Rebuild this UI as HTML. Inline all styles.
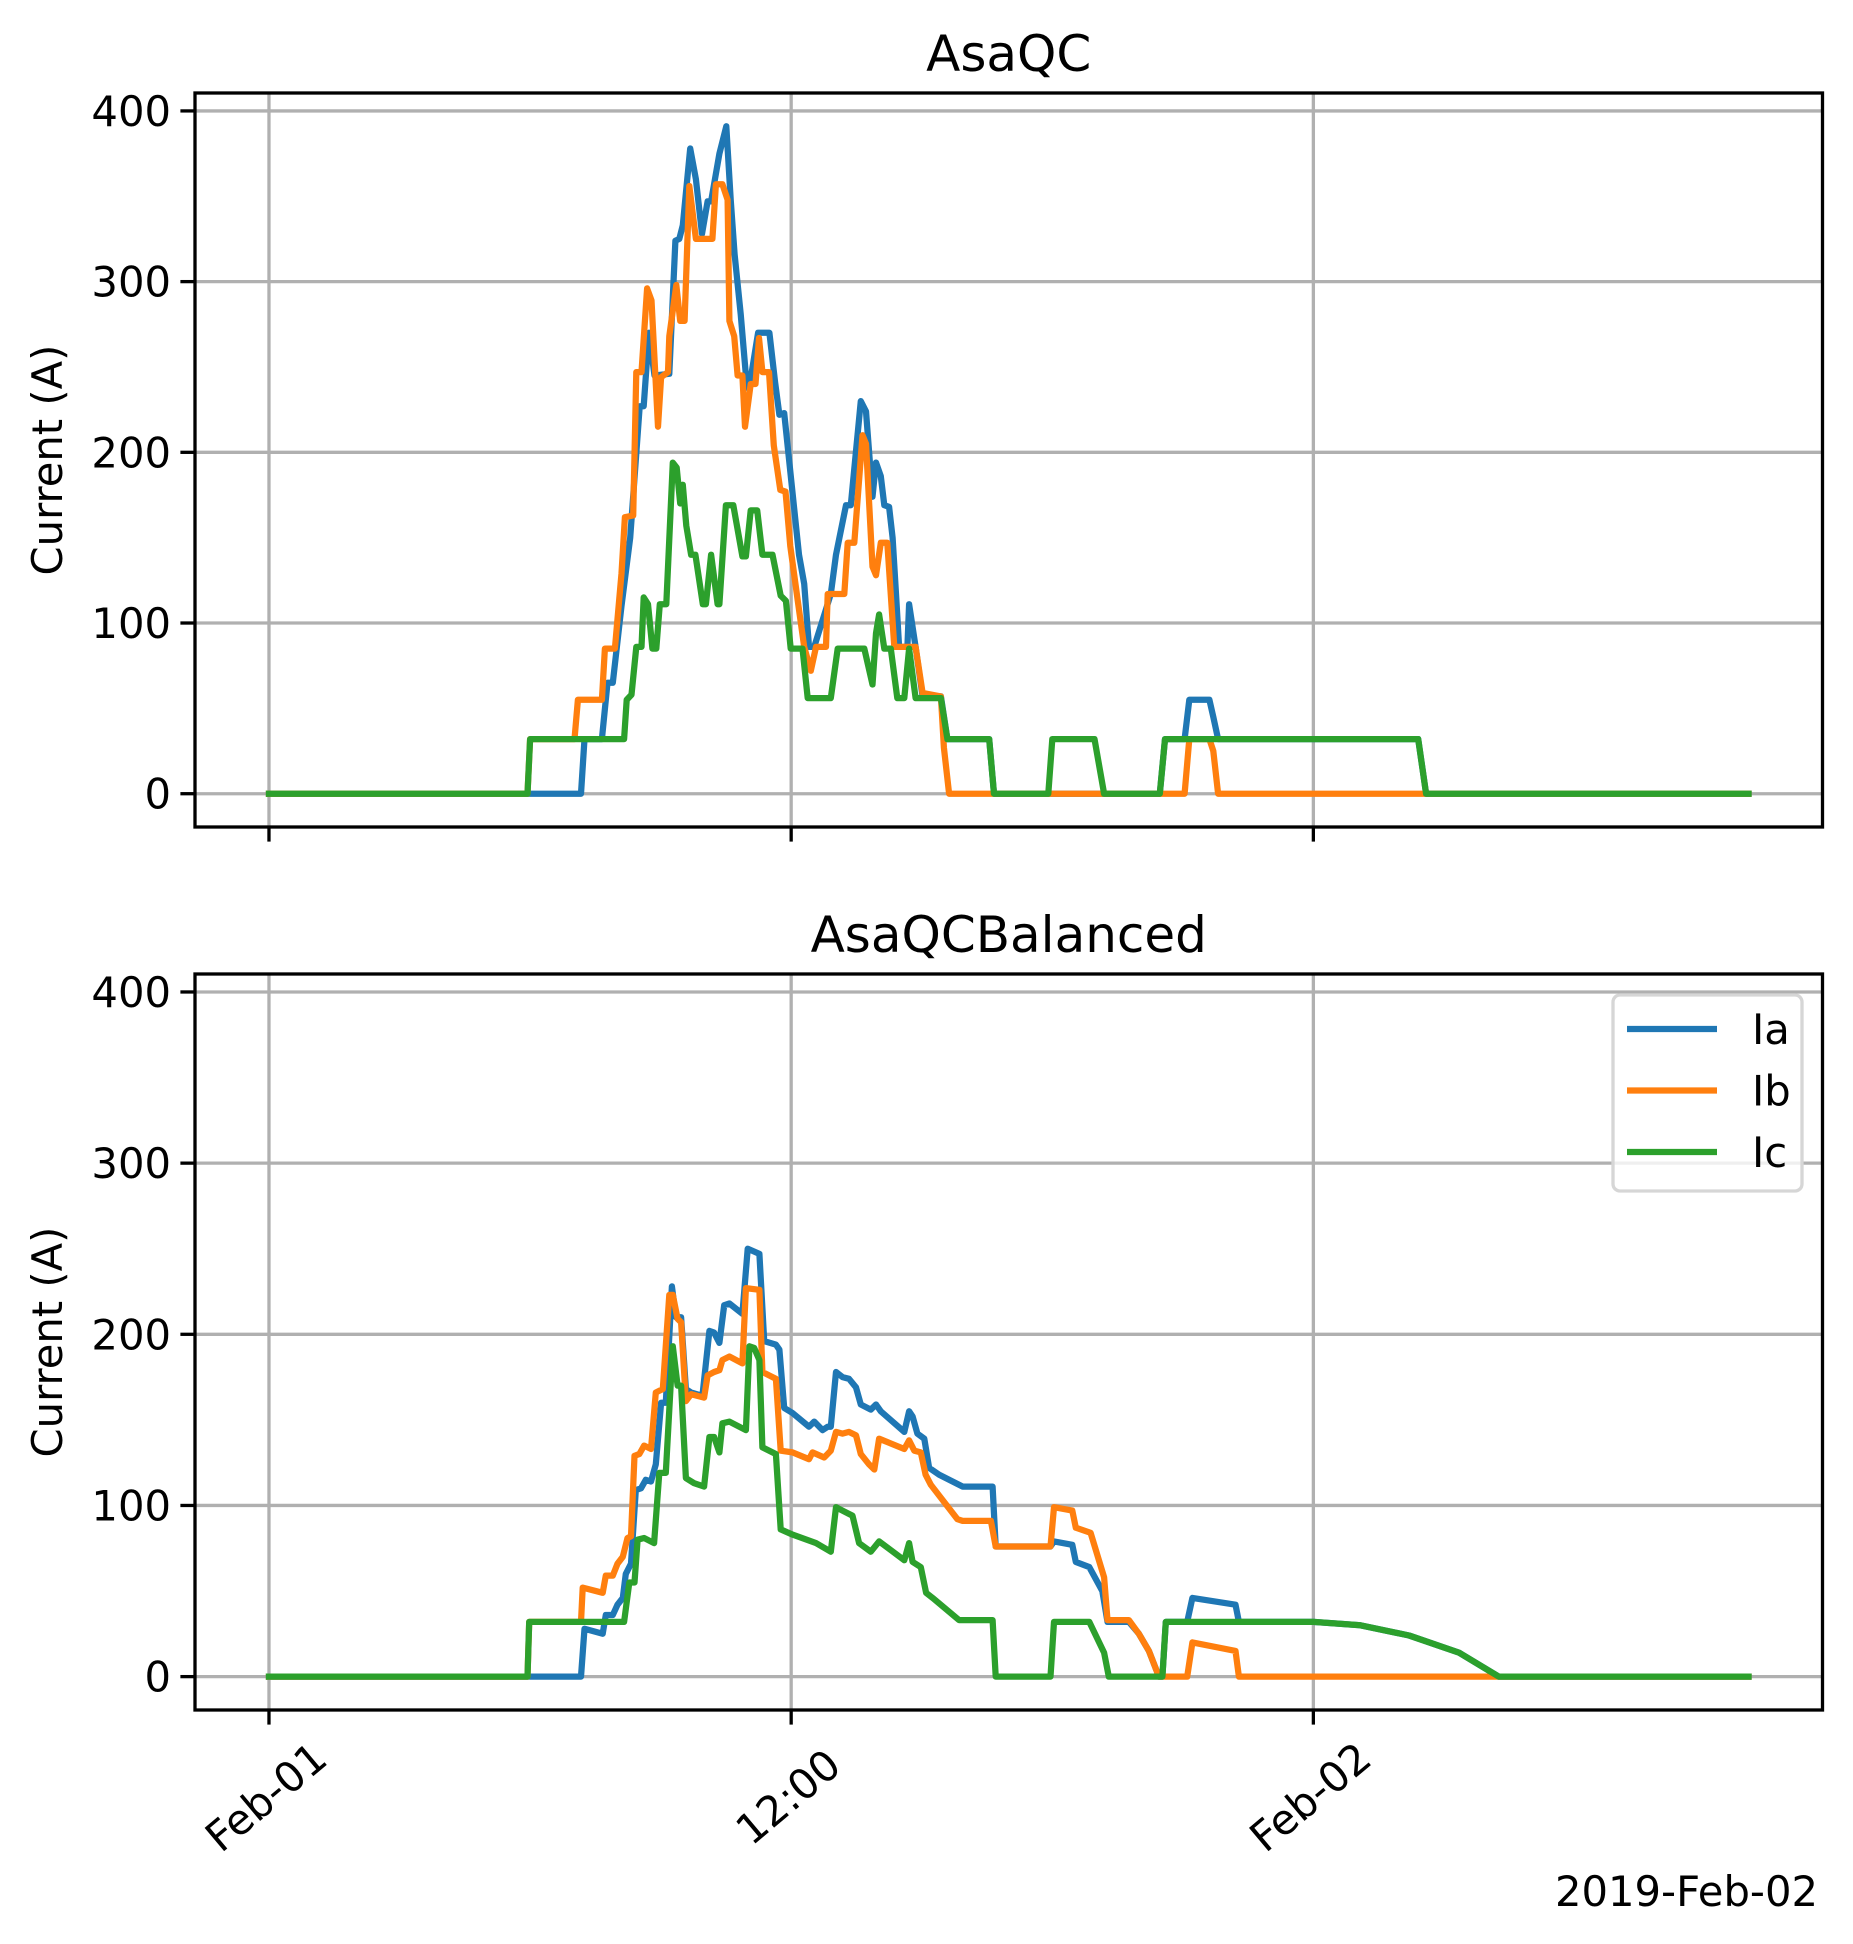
<!DOCTYPE html>
<html><head><meta charset="utf-8"><style>
html,body{margin:0;padding:0;background:#fff}
svg{display:block;font-family:"DejaVu Sans","Liberation Sans",sans-serif}
</style></head><body>
<svg id="chart" width="1853" height="1944" viewBox="0 0 1853 1944" xmlns="http://www.w3.org/2000/svg">
<g id="g"></g>
</svg>
<script>
const yTicks = [0,100,200,300,400];
const xTickHours = [0,12,24];
const xTickLabels = ["Feb-01","12:00","Feb-02"];
const seriesNames = ["Ia","Ib","Ic"];
const topIa = [[0,0],[7.17,0],[7.25,32],[7.65,32],[7.78,65],[7.9,65],[8.1,110],[8.3,150],[8.52,227],[8.61,227],[8.73,270],[8.86,245],[9.2,246],[9.34,324],[9.43,325],[9.51,333],[9.68,378],[9.81,360],[9.95,328],[10.08,347],[10.16,347],[10.35,375],[10.51,391],[10.61,348],[10.7,316],[10.84,281],[10.96,245],[11.03,237],[11.24,270],[11.5,270],[11.63,241],[11.73,222],[11.84,223],[12.18,140],[12.3,123],[12.41,86],[12.53,86],[12.91,117],[13.03,140],[13.26,169],[13.37,169],[13.6,230],[13.72,224],[13.87,174],[13.95,194],[14.06,186],[14.14,169],[14.25,168],[14.33,150],[14.41,117],[14.48,86],[14.67,86],[14.71,111],[14.86,86],[15.02,57],[15.44,57],[15.59,32],[16.55,32],[16.66,0],[20.47,0],[20.59,32],[21.04,32],[21.15,55],[21.61,55],[21.7,45],[21.81,32],[26.41,32],[26.59,0],[34,0]];
const topIb = [[0,0],[5.94,0],[6.0,32],[7.02,32],[7.1,55],[7.65,55],[7.72,85],[7.95,85],[8.1,129],[8.18,162],[8.37,163],[8.44,247],[8.56,247],[8.69,296],[8.79,289],[8.94,215],[9.01,244],[9.17,247],[9.2,268],[9.36,298],[9.45,277],[9.55,277],[9.66,356],[9.81,325],[10.19,325],[10.27,357],[10.42,357],[10.54,348],[10.58,277],[10.69,268],[10.77,245],[10.88,245],[10.94,215],[11.07,240],[11.18,240],[11.26,267],[11.34,247],[11.49,247],[11.6,204],[11.75,178],[11.87,177],[11.98,145],[12.14,115],[12.3,86],[12.45,72],[12.57,86],[12.8,86],[12.84,117],[13.22,117],[13.3,147],[13.45,147],[13.64,210],[13.72,205],[13.87,133],[13.95,128],[14.06,147],[14.21,147],[14.37,86],[14.86,86],[15.02,59],[15.44,57],[15.51,27],[15.63,0],[21.04,0],[21.15,32],[21.61,32],[21.7,25],[21.81,0],[34,0]];
const topIc = [[0,0],[5.94,0],[6.0,32],[8.16,32],[8.22,55],[8.33,58],[8.44,86],[8.56,86],[8.61,115],[8.71,111],[8.81,85],[8.9,85],[8.98,111],[9.13,111],[9.28,194],[9.37,191],[9.45,170],[9.51,181],[9.59,157],[9.7,140],[9.8,140],[9.97,111],[10.04,111],[10.16,140],[10.31,111],[10.35,111],[10.5,169],[10.67,169],[10.88,139],[10.96,139],[11.07,166],[11.22,166],[11.34,140],[11.57,140],[11.76,116],[11.88,113],[11.99,85],[12.26,85],[12.38,56],[12.91,56],[13.07,85],[13.68,85],[13.87,64],[13.95,94],[14.02,105],[14.14,85],[14.29,85],[14.44,56],[14.6,56],[14.71,85],[14.86,56],[15.44,56],[15.59,32],[16.55,32],[16.66,0],[17.91,0],[18.0,32],[18.97,32],[19.19,0],[20.47,0],[20.59,32],[26.41,32],[26.59,0],[34,0]];
const botIa = [[0,0],[7.17,0],[7.25,28],[7.67,25],[7.74,36],[7.9,36],[8.01,42],[8.13,46],[8.2,60],[8.32,66],[8.43,109],[8.55,110],[8.66,115],[8.78,114],[8.89,124],[9.01,160],[9.12,160],[9.26,228],[9.35,210],[9.47,210],[9.58,168],[9.7,166],[9.96,164],[10.12,202],[10.23,201],[10.35,195],[10.46,217],[10.58,218],[10.88,212],[11.0,250],[11.27,247],[11.38,196],[11.65,194],[11.73,191],[11.84,157],[12.03,154],[12.41,146],[12.53,149],[12.72,144],[12.84,146],[12.91,146],[13.03,178],[13.18,175],[13.33,174],[13.49,169],[13.6,159],[13.83,156],[13.95,159],[14.06,155],[14.6,143],[14.71,155],[14.79,152],[14.9,142],[15.06,139],[15.17,122],[15.4,118],[15.94,111],[16.63,111],[16.7,76],[17.96,76],[18.04,79],[18.46,77],[18.54,67],[18.85,64],[19.15,50],[19.27,32],[19.76,32],[19.99,25],[20.22,15],[20.45,0],[20.53,0],[20.61,32],[21.1,32],[21.22,46],[22.21,42],[22.29,32],[24,32],[25.08,30],[26.2,24],[27.35,14],[28.26,0],[34,0]];
const botIb = [[0,0],[5.94,0],[5.98,32],[7.17,32],[7.21,52],[7.67,49],[7.74,59],[7.9,59],[8.01,66],[8.13,70],[8.24,81],[8.32,82],[8.4,129],[8.51,130],[8.62,135],[8.78,133],[8.89,166],[9.05,168],[9.2,223],[9.28,223],[9.39,209],[9.47,207],[9.58,161],[9.7,165],[10.0,163],[10.08,176],[10.23,178],[10.35,179],[10.42,185],[10.58,187],[10.88,183],[10.96,227],[11.27,226],[11.34,178],[11.65,174],[11.76,132],[12.03,131],[12.41,127],[12.49,131],[12.76,128],[12.91,132],[13.03,143],[13.18,142],[13.33,143],[13.49,141],[13.6,130],[13.79,124],[13.91,121],[14.02,139],[14.6,133],[14.71,138],[14.83,132],[14.98,131],[15.09,118],[15.21,112],[15.82,92],[15.94,91],[16.59,91],[16.7,76],[17.96,76],[18.04,99],[18.46,97],[18.54,87],[18.88,84],[19.19,58],[19.27,33],[19.76,33],[19.99,25],[20.22,15],[20.45,0],[21.1,0],[21.22,20],[22.21,15],[22.29,0],[34,0]];
const botIc = [[0,0],[5.94,0],[5.98,32],[8.16,32],[8.28,55],[8.4,55],[8.47,80],[8.62,81],[8.85,78],[8.97,119],[9.12,119],[9.28,193],[9.39,170],[9.47,170],[9.58,116],[9.77,113],[10.0,111],[10.12,140],[10.23,140],[10.35,131],[10.42,148],[10.58,149],[10.96,144],[11.04,193],[11.15,192],[11.27,185],[11.34,134],[11.65,130],[11.76,86],[12.03,83],[12.57,78],[12.91,73],[13.03,99],[13.18,97],[13.41,94],[13.56,78],[13.83,73],[14.02,79],[14.6,68],[14.71,78],[14.79,67],[14.98,64],[15.1,49],[15.25,46],[15.86,33],[16.63,33],[16.7,0],[17.96,0],[18.04,32],[18.85,32],[19.19,14],[19.3,0],[20.53,0],[20.61,32],[24,32],[25.08,30],[26.2,24],[27.35,14],[28.26,0],[34,0]];

const NS="http://www.w3.org/2000/svg";
const g=document.getElementById('g');
const colors=["#1f77b4","#ff7f0e","#2ca02c"];
const L=195,R=1822.5,XMIN=-1.7,XMAX=35.7,YMIN=-19.5,YMAX=410.5;
function mk(tag,attrs,parent){const e=document.createElementNS(NS,tag);for(const k in attrs)e.setAttribute(k,attrs[k]);(parent||g).appendChild(e);return e;}
function xs(h){return L+(h-XMIN)/(XMAX-XMIN)*(R-L);}
function panel(T,B,title,series,name,showX,showLegend){
  const ys=v=>B-(v-YMIN)/(YMAX-YMIN)*(B-T);
  const pg=mk('g',{});
  
  
  yTicks.forEach(t=>{
    const gl=mk('line',{x1:L,x2:R,y1:ys(t),y2:ys(t),stroke:'#b0b0b0','stroke-width':3.3},pg);
    
    
    mk('line',{x1:L-14.6,x2:L,y1:ys(t),y2:ys(t),stroke:'#000','stroke-width':3.3},pg);
    const tx=mk('text',{x:L-24,y:ys(t)+15,'text-anchor':'end','font-size':41.7},pg);
    tx.textContent=t;
    
    
  });
  xTickHours.forEach((h,i)=>{
    const gl=mk('line',{x1:xs(h),x2:xs(h),y1:T,y2:B,stroke:'#b0b0b0','stroke-width':3.3},pg);
    
    
    mk('line',{x1:xs(h),x2:xs(h),y1:B,y2:B+14.6,stroke:'#000','stroke-width':3.3},pg);
    if(showX){
      const cx=xs(h)-3,cy=1797;
      const tx=mk('text',{x:cx,y:cy,'text-anchor':'middle','dominant-baseline':'central','font-size':41.7,transform:`rotate(-40 ${cx} ${cy})`},pg);
      tx.textContent=xTickLabels[i];
      
      
    }
  });
  const cp='clip'+name;
  const c=mk('clipPath',{id:cp},pg);mk('rect',{x:L,y:T,width:R-L,height:B-T},c);
  series.forEach((s,i)=>{
    const d=s.map((p,j)=>(j?'L':'M')+xs(p[0]).toFixed(1)+' '+ys(p[1]).toFixed(1)).join(' ');
    const pa=mk('path',{d:d,fill:'none',stroke:colors[i],'stroke-width':6.25,'stroke-linejoin':'round','stroke-linecap':'square','clip-path':`url(#${cp})`},pg);
    
    
  });
  const fr=mk('rect',{x:L,y:T,width:R-L,height:B-T,fill:'none',stroke:'#000','stroke-width':3.3},pg);
  
  
  const tt=mk('text',{x:(L+R)/2,y:T-22,'text-anchor':'middle','font-size':50},pg);
  tt.textContent=title;
  
  
  const yl=mk('text',{x:0,y:0,'text-anchor':'middle','font-size':41.7,transform:`translate(62 ${(T+B)/2}) rotate(-90)`},pg);
  yl.textContent='Current (A)';
  
  
  if(showLegend){
    const lg=mk('g',{},pg);
    
    
    mk('rect',{x:1613,y:995,width:189,height:196,rx:7,fill:'#fff','fill-opacity':0.8,stroke:'#d6d6d6','stroke-width':3.3},lg);
    seriesNames.forEach((n,i)=>{
      const yy=1029+i*61.5;
      const le=mk('g',{},lg);
      
      
      mk('line',{x1:1627,x2:1717,y1:yy,y2:yy,stroke:colors[i],'stroke-width':6.25},le);
      const t=mk('text',{x:1752,y:yy+15,'font-size':41.7},le);t.textContent=n;
    });
  }
}
panel(93,827,'AsaQC',[topIa,topIb,topIc],'panel-asaqc',false,false);
panel(974,1710,'AsaQCBalanced',[botIa,botIb,botIc],'panel-asaqcbalanced',true,true);
const dt=mk('text',{x:1818,y:1906,'text-anchor':'end','font-size':41.7});
dt.textContent='2019-Feb-02';


</script>
</body></html>
